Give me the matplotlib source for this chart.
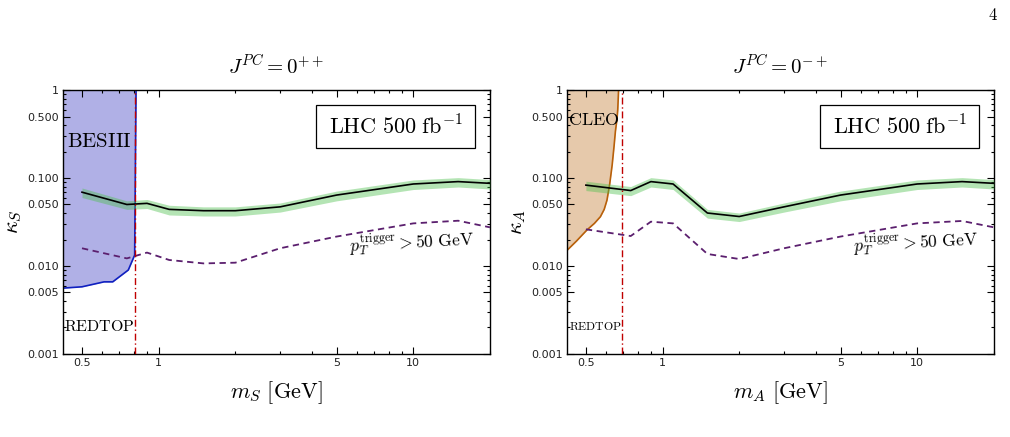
import numpy as np
import matplotlib
matplotlib.use("Agg")
import matplotlib.pyplot as plt
import matplotlib.patches as patches
from matplotlib.ticker import FixedLocator, FixedFormatter, NullFormatter

plt.rcParams["mathtext.fontset"] = "cm"
plt.rcParams["font.family"] = "DejaVu Sans"

# --- data ---
mass = [0.5, 0.75, 0.9, 1.1, 1.5, 2.0, 3.0, 5.0, 10.0, 15.0, 20.0]

kS = [0.069, 0.050, 0.0515, 0.044, 0.0425, 0.0425, 0.047, 0.064, 0.0855, 0.091, 0.087]
kS_hi = [0.077, 0.055, 0.057, 0.049, 0.047, 0.047, 0.052, 0.071, 0.095, 0.101, 0.096]
kS_lo = [0.060, 0.044, 0.045, 0.038, 0.037, 0.037, 0.041, 0.055, 0.074, 0.079, 0.075]
trig_S = [0.0159, 0.0122, 0.0142, 0.0117, 0.0107, 0.0109, 0.0159, 0.0216, 0.0305, 0.0327, 0.0275]

kA = [0.083, 0.072, 0.091, 0.0855, 0.040, 0.0365, 0.047, 0.064, 0.0855, 0.091, 0.087]
kA_hi = [0.092, 0.080, 0.101, 0.095, 0.044, 0.040, 0.052, 0.071, 0.095, 0.101, 0.096]
kA_lo = [0.072, 0.063, 0.079, 0.074, 0.035, 0.032, 0.041, 0.055, 0.074, 0.079, 0.075]
trig_A = [0.0261, 0.0219, 0.0319, 0.0305, 0.0137, 0.0120, 0.0159, 0.0216, 0.0305, 0.0325, 0.0275]

bes_m = [0.42, 0.5, 0.61, 0.66, 0.76, 0.805, 0.815]
bes_k = [0.0056, 0.0058, 0.0066, 0.0066, 0.0090, 0.0133, 1.0]

cleo_m = [0.42, 0.46, 0.505, 0.54, 0.57, 0.59, 0.605, 0.62, 0.634, 0.645, 0.653, 0.662, 0.667, 0.672]
cleo_k = [0.0149, 0.0193, 0.0257, 0.0305, 0.0363, 0.0440, 0.0560, 0.0850, 0.140, 0.230, 0.340, 0.460, 0.600, 1.0]

redtop_S = 0.81
redtop_A = 0.69

ytick_vals = [0.001, 0.005, 0.010, 0.050, 0.100, 0.500, 1.0]
ytick_labels = ["0.001", "0.005", "0.010", "0.050", "0.100", "0.500", "1"]
xtick_vals = [0.5, 1, 5, 10]
xtick_labels = ["0.5", "1", "5", "10"]

fig = plt.figure(figsize=(10.1, 4.37), dpi=100)
ax_l = fig.add_axes([0.0621, 0.190, 0.423, 0.604])
ax_r = fig.add_axes([0.561, 0.190, 0.423, 0.604])

BAND = "#4cc04c"
TRIG = "#5b1f6e"
RED = "#c00000"


def style_axes(ax):
    ax.set_xscale("log")
    ax.set_yscale("log")
    ax.set_xlim(0.42, 20)
    ax.set_ylim(0.001, 1)
    ax.xaxis.set_major_locator(FixedLocator(xtick_vals))
    ax.xaxis.set_major_formatter(FixedFormatter(xtick_labels))
    ax.xaxis.set_minor_locator(FixedLocator([0.6, 0.7, 0.8, 0.9, 2, 3, 4, 6, 7, 8, 9, 20]))
    ax.xaxis.set_minor_formatter(NullFormatter())
    ax.yaxis.set_major_locator(FixedLocator(ytick_vals))
    ax.yaxis.set_major_formatter(FixedFormatter(ytick_labels))
    minors = [m * d for d in (0.001, 0.01, 0.1) for m in (2, 3, 4, 6, 7, 8, 9)]
    ax.yaxis.set_minor_locator(FixedLocator(minors))
    ax.yaxis.set_minor_formatter(NullFormatter())
    ax.tick_params(which="both", direction="in", top=True, right=True,
                   labelsize=8, labelcolor="#222222", pad=3, width=0.8)
    ax.tick_params(which="major", length=5)
    ax.tick_params(which="minor", length=2.5)
    for s in ax.spines.values():
        s.set_linewidth(1.0)


def draw_common(ax, k, k_lo, k_hi, trig, vline):
    ax.fill_between(mass, k_lo, k_hi, color=BAND, alpha=0.42, lw=0, zorder=3)
    ax.plot(mass, k, color="black", lw=1.2, zorder=4)
    ax.plot(mass, trig, color=TRIG, lw=1.3, ls=(0, (3.5, 2.5)), zorder=4)
    ax.axvline(vline, color=RED, lw=1.0, ls=(0, (5, 2, 1, 2)), zorder=5)
    ax.add_patch(patches.Rectangle((0.594, 0.779), 0.371, 0.164, transform=ax.transAxes,
                                   facecolor="white", edgecolor="black", lw=0.9, zorder=6))
    ax.text(0.78, 0.861, r"$\mathrm{LHC\ 500\ fb}^{-1}$", transform=ax.transAxes,
            ha="center", va="center", fontsize=16, zorder=7)
    ax.text(0.816, 0.42, r"$p_T^{\mathrm{trigger}} > 50\ \mathrm{GeV}$", transform=ax.transAxes,
            ha="center", va="center", fontsize=12.5, rotation=3, zorder=7)


# left: scalar
style_axes(ax_l)
ax_l.fill_between(bes_m, bes_k, 1.0, color="#b0b0e6", lw=0, zorder=1)
ax_l.plot(bes_m, bes_k, color="#1020c0", lw=1.2, zorder=2)
draw_common(ax_l, kS, kS_lo, kS_hi, trig_S, redtop_S)
ax_l.text(0.0866, 0.808, r"$\mathrm{BESIII}$", transform=ax_l.transAxes,
          ha="center", va="center", fontsize=15, zorder=7)
ax_l.text(0.004, 0.103, r"$\mathrm{REDTOP}$", transform=ax_l.transAxes,
          ha="left", va="center", fontsize=11.5, zorder=7)
ax_l.set_title(r"$J^{PC} = 0^{++}$", fontsize=15, pad=12)
ax_l.set_xlabel(r"$m_S\ [\mathrm{GeV}]$", fontsize=16, labelpad=8)
ax_l.set_ylabel(r"$\kappa_S$", fontsize=16, labelpad=2)

# right: pseudoscalar
style_axes(ax_r)
ax_r.fill_between(cleo_m, cleo_k, 1.0, color="#e6c9ab", lw=0, zorder=1)
ax_r.plot(cleo_m, cleo_k, color="#b8600a", lw=1.2, zorder=2)
draw_common(ax_r, kA, kA_lo, kA_hi, trig_A, redtop_A)
ax_r.text(0.064, 0.886, r"$\mathrm{CLEO}$", transform=ax_r.transAxes,
          ha="center", va="center", fontsize=13, zorder=7)
ax_r.text(0.006, 0.103, r"$\mathrm{REDTOP}$", transform=ax_r.transAxes,
          ha="left", va="center", fontsize=8.5, zorder=7)
ax_r.set_title(r"$J^{PC} = 0^{-+}$", fontsize=15, pad=12)
ax_r.set_xlabel(r"$m_A\ [\mathrm{GeV}]$", fontsize=16, labelpad=8)
ax_r.set_ylabel(r"$\kappa_A$", fontsize=16, labelpad=2)

fig.text(0.988, 0.966, r"$4$", ha="right", va="center", fontsize=12)

fig.savefig("out.png", dpi=100)
